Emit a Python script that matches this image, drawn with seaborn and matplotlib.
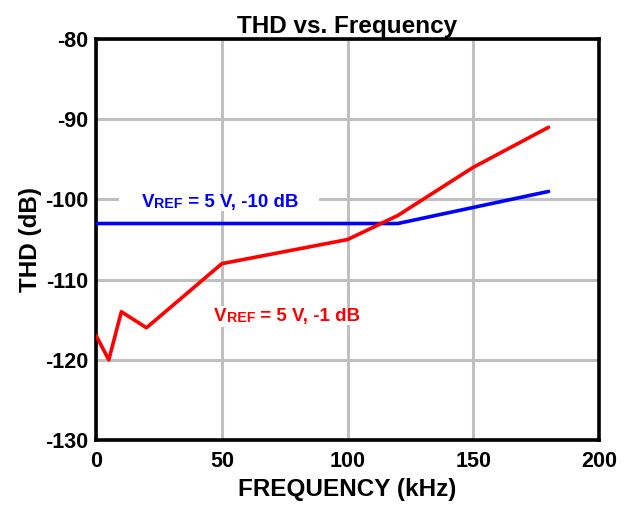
import matplotlib
matplotlib.use("Agg")
import matplotlib.pyplot as plt
import seaborn as sns
import pandas as pd

# Dados
freq_red = [0, 5, 10, 20, 50, 100, 120, 150, 180]
thd_red = [-117, -120, -114, -116, -108, -105, -102, -96, -91]
freq_blue = [0, 120, 150, 180]
thd_blue = [-103, -103, -101, -99]

x_ticks = [0, 50, 100, 150, 200]
y_ticks = [-130, -120, -110, -100, -90, -80]

sns.set_theme(style="white")
plt.rcParams['font.family'] = ['Liberation Sans', 'DejaVu Sans']
plt.rcParams['font.weight'] = 'bold'
plt.rcParams['axes.unicode_minus'] = False
plt.rcParams['text.color'] = 'black'
plt.rcParams['axes.labelcolor'] = 'black'

fig = plt.figure(figsize=(6.33, 5.07), dpi=100)
ax = fig.add_axes([0.152, 0.132, 0.794, 0.791])

df_red = pd.DataFrame({'f': freq_red, 'thd': thd_red})
df_blue = pd.DataFrame({'f': freq_blue, 'thd': thd_blue})
sns.lineplot(data=df_red, x='f', y='thd', color='#ff0000', linewidth=2.6, ax=ax, zorder=4)
sns.lineplot(data=df_blue, x='f', y='thd', color='#0000ff', linewidth=2.6, ax=ax, zorder=3)

ax.set_xlim(0, 200)
ax.set_ylim(-130, -80)
ax.set_xticks(x_ticks)
ax.set_yticks(y_ticks)
ax.grid(True, color='#c0c0c0', linewidth=2.2)
ax.set_axisbelow(True)
for s in ax.spines.values():
    s.set_color('black')
    s.set_linewidth(2.6)
    s.set_visible(True)
ax.tick_params(direction='in', length=3, width=2, colors='black')
ax.tick_params(axis='x', pad=8)
ax.tick_params(axis='y', pad=6)
for lab in ax.get_xticklabels() + ax.get_yticklabels():
    lab.set_fontweight('bold')
    lab.set_fontsize(15.5)

ax.set_title('THD vs. Frequency', fontsize=17.5, fontweight='bold', pad=4,
             color='black')
ax.set_xlabel('FREQUENCY (kHz)', fontsize=17.5, fontweight='bold', labelpad=4)
ax.set_ylabel('THD (dB)', fontsize=17.5, fontweight='bold', labelpad=2)


def vref_label(x, y, head, tail, color):
    t1 = ax.text(x, y, head, fontsize=13.5, fontweight='bold', color=color,
                 va='bottom', ha='left', zorder=5,
                 bbox=dict(facecolor='white', edgecolor='none', pad=1.5))
    t2 = ax.annotate('REF', xy=(1, 0), xycoords=t1, fontsize=10.2,
                     fontweight='bold', color=color, va='bottom', ha='left',
                     bbox=dict(facecolor='white', edgecolor='none', pad=0),
                     zorder=5)
    ax.annotate(tail, xy=(1, 0), xycoords=t2, fontsize=13.5, fontweight='bold',
                color=color, va='bottom', ha='left', zorder=5,
                bbox=dict(facecolor='white', edgecolor='none', pad=0))


vref_label(9.7, -101.4, '    V', ' = 5 V, -10 dB    ', '#0000ff')
vref_label(47, -115.7, 'V', ' = 5 V, -1 dB', '#ff0000')

fig.savefig('out.png', dpi=100)
